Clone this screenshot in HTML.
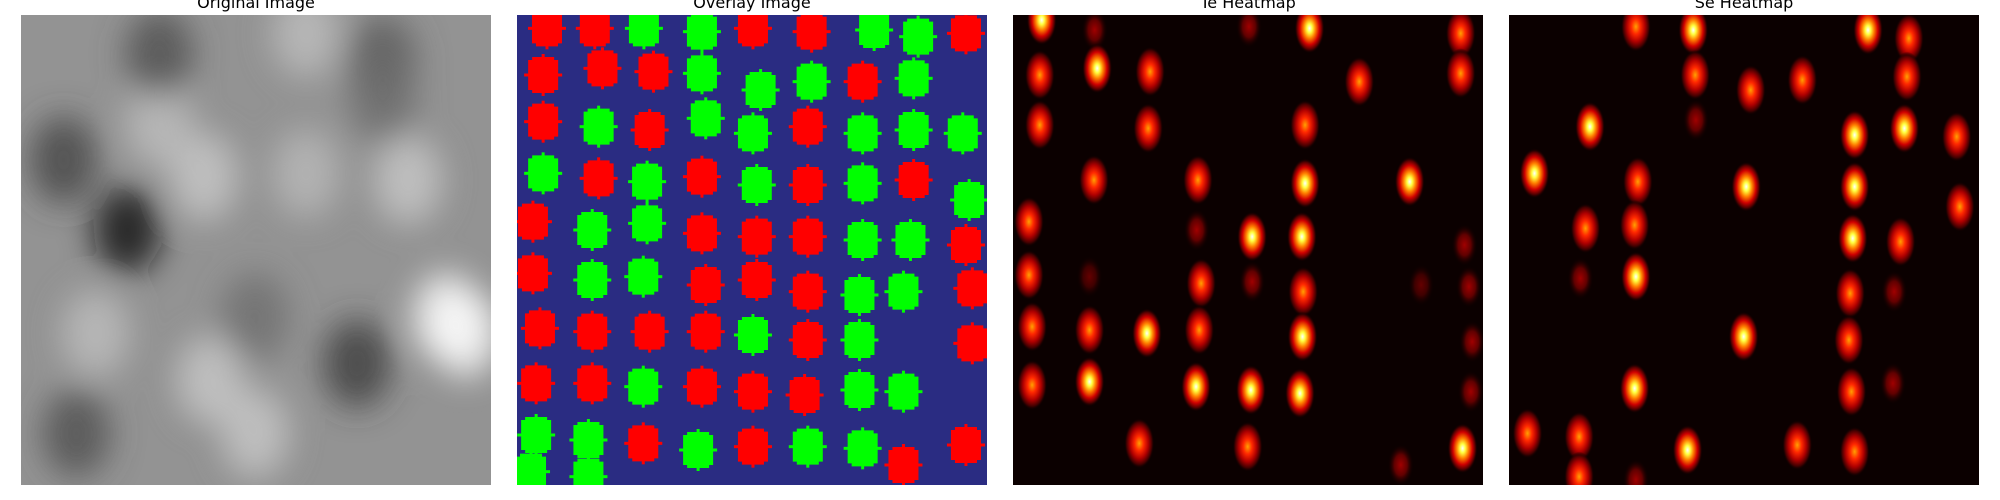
<!DOCTYPE html>
<html><head><meta charset="utf-8"><style>
html,body{margin:0;padding:0;background:#fff;width:2000px;height:500px;overflow:hidden}
svg{display:block}
text{font-family:"DejaVu Sans","Liberation Sans",sans-serif;font-size:16px;fill:#000}
</style></head><body>
<svg id="fig" width="2000" height="500" viewBox="0 0 2000 500" xmlns="http://www.w3.org/2000/svg">
<defs>
<filter id="blurBig" x="-50%" y="-50%" width="200%" height="200%"><feGaussianBlur stdDeviation="16"/></filter>
<radialGradient id="gHi"><stop offset="0" stop-color="#ffffff"/><stop offset="0.18" stop-color="#ffff40"/><stop offset="0.4" stop-color="#ff8000"/><stop offset="0.65" stop-color="#d00000"/><stop offset="0.85" stop-color="#500000"/><stop offset="1" stop-color="#0b0000" stop-opacity="0"/></radialGradient>
<radialGradient id="gMd"><stop offset="0" stop-color="#ffa000"/><stop offset="0.3" stop-color="#ff2800"/><stop offset="0.6" stop-color="#b00000"/><stop offset="0.85" stop-color="#400000"/><stop offset="1" stop-color="#0b0000" stop-opacity="0"/></radialGradient>
<radialGradient id="gLo"><stop offset="0" stop-color="#a00000"/><stop offset="0.5" stop-color="#600000"/><stop offset="1" stop-color="#0b0000" stop-opacity="0"/></radialGradient>
<clipPath id="c1"><rect x="21" y="15" width="470" height="470"/></clipPath>
<clipPath id="c2"><rect x="517" y="15" width="470" height="470"/></clipPath>
<clipPath id="c3"><rect x="1013" y="15" width="470" height="470"/></clipPath>
<clipPath id="c4"><rect x="1509" y="15" width="470" height="470"/></clipPath>
</defs>
<text x="256" y="8" text-anchor="middle">Original Image</text>
<text x="752" y="8" text-anchor="middle">Overlay Image</text>
<text x="1248" y="8" text-anchor="middle">Te Heatmap</text>
<text x="1744" y="8" text-anchor="middle">Se Heatmap</text>
<g id="p1" clip-path="url(#c1)"><rect x="21" y="15" width="470" height="470" fill="#939393"/></g>
<g id="p2" clip-path="url(#c2)"><rect x="517" y="15" width="470" height="470" fill="#2a2c82"/></g>
<g id="p3" clip-path="url(#c3)"><rect x="1013" y="15" width="470" height="470" fill="#0b0000"/></g>
<g id="p4" clip-path="url(#c4)"><rect x="1509" y="15" width="470" height="470" fill="#0b0000"/></g>
</svg>
<script>
// Positions measured in zoomed reference pixel space
const grayX=[200,320,480,560,250,640,700,730,330,400,120,600,480,250,400,150,600,100];
const grayY=[690,530,100,1090,370,540,950,1000,1140,1300,1300,180,520,160,950,1000,300,480];
const grayV=[20,200,190,60,190,200,250,250,200,200,80,90,185,80,110,190,110,70];
const ovX=[858,933,1010,1101,1181,1273,1371,1440,1515, 852,945,1025,1101,1193,1273,1353,1433, 852,939,1019,1107,1181,1267,1353,1433,1510, 852,939,1015,1101,1187,1267,1353,1433,1520, 836,929,1015,1101,1187,1267,1353,1428,1515, 836,929,1009,1107,1187,1267,1348,1417,1525, 847,929,1019,1107,1181,1267,1348,1525, 841,929,1009,1101,1181,1262,1348,1417, 841,923,1009,1095,1181,1267,1353,1417,1515, 833,923];
const ovY=[85,85,85,95,85,95,90,110,100, 225,205,215,220,270,245,245,235, 365,380,390,355,400,380,400,390,400, 520,535,545,530,555,555,550,540,600, 665,690,670,700,710,710,720,720,735, 820,840,830,855,840,875,885,875,865, 985,995,995,995,1005,1020,1020,1030, 1150,1150,1160,1160,1175,1185,1170,1175, 1305,1320,1330,1350,1340,1340,1345,1395,1335, 1415,1430];
const ovCls=['R','R','G','G','R','R','G','G','R', 'R','R','R','G','G','G','R','G', 'R','G','R','G','G','R','G','G','G', 'G','R','G','R','G','R','G','R','G', 'R','G','G','R','R','R','G','G','R', 'R','G','G','R','R','R','G','G','R', 'R','R','R','R','G','R','G','R', 'R','R','G','R','R','R','G','G', 'G','G','R','G','R','G','G','R','R', 'G','G'];
const teX=[65,148,390,485,722,62,152,235,563,722,62,232,478,147,310,478,642,45,308,395,473,728,45,140,315,395,475,660,735,50,140,230,312,474,740,50,140,307,393,470,738,218,388,628,725];
const teY=[60,90,80,85,100,225,205,215,245,220,375,385,375,540,540,550,545,665,690,710,710,735,825,830,850,845,875,855,860,980,990,1000,990,1010,1025,1155,1145,1160,1170,1180,1175,1330,1340,1395,1345];
const teI=[3,1,1,3,2,2,3,2,2,2,2,2,2,2,2,3,3,2,1,3,3,1,2,0.5,2,1,2,0.5,1,2,2,3,2,3,1,2,3,3,3,3,1,2,2,1,3];
const seX=[997,1087,1361,1425,1090,1177,1258,1422,925,1091,1340,1418,1500,838,1000,1170,1340,1505,918,995,1337,1412,910,997,1333,1402,1166,1331,1400,995,1335,827,908,1078,1250,1340,908,997];
const seY=[80,90,90,115,225,270,240,230,380,360,405,385,410,520,545,560,560,620,685,675,715,725,835,830,880,875,1010,1020,1150,1165,1175,1300,1310,1350,1335,1355,1430,1440];
const seI=[2,3,3,2,2,2,2,2,3,1,3,3,2,3,2,3,3,2,2,2,3,2,1,3,2,1,3,2,1,3,2,2,2,3,2,2,2,1];
const NS='http://www.w3.org/2000/svg';
const K=470/737;
function sx(v,z0,off){return off+(v-z0)*K;}
function sy(v){return 15+(v-45)/3;}
function mk(tag,attrs){const e=document.createElementNS(NS,tag);for(const k in attrs)e.setAttribute(k,attrs[k]);return e;}
const p1=document.getElementById('p1'),p2=document.getElementById('p2'),p3=document.getElementById('p3'),p4=document.getElementById('p4');
const gg=mk('g',{filter:'url(#blurBig)'});p1.appendChild(gg);
for(let i=0;i<grayX.length;i++){const v=grayV[i];
 const e=mk('ellipse',{cx:sx(grayX[i],33,21),cy:sy(grayY[i]),rx:34,ry:44,fill:`rgb(${v},${v},${v})`,opacity:0.8});
 
 
 gg.appendChild(e);}
for(let i=0;i<ovX.length;i++){
 const cx=sx(ovX[i],811,517),cy=sy(ovY[i]);const col=ovCls[i]==='R'?'#ff0000':'#00ff00';
 const g=mk('g',{fill:col});
 
 
 g.appendChild(mk('path',{d:`M${cx-11} ${cy-18}h22v3h4v30h-4v3h-22v-3h-4v-30h4z`}));
 g.appendChild(mk('rect',{x:cx-1.5,y:cy-21,width:3,height:42}));
 g.appendChild(mk('rect',{x:cx-19,y:cy-1.5,width:38,height:3}));
 p2.appendChild(g);}
function heat(p,X,Y,I,z0,off){
 for(let i=0;i<X.length;i++){const v=I[i];
  const grad=v>=3?'gHi':v>=2?'gMd':'gLo';
  const e=mk('ellipse',{cx:sx(X[i],z0,off),cy:sy(Y[i]),rx:v>=2?15:13,ry:v>=2?25:21,fill:`url(#${grad})`,opacity:v<1?0.6:1});
  
  
  p.appendChild(e);}
}
heat(p3,teX,teY,teI,20,1013);
heat(p4,seX,seY,seI,798,1509);
</script>
</body></html>
